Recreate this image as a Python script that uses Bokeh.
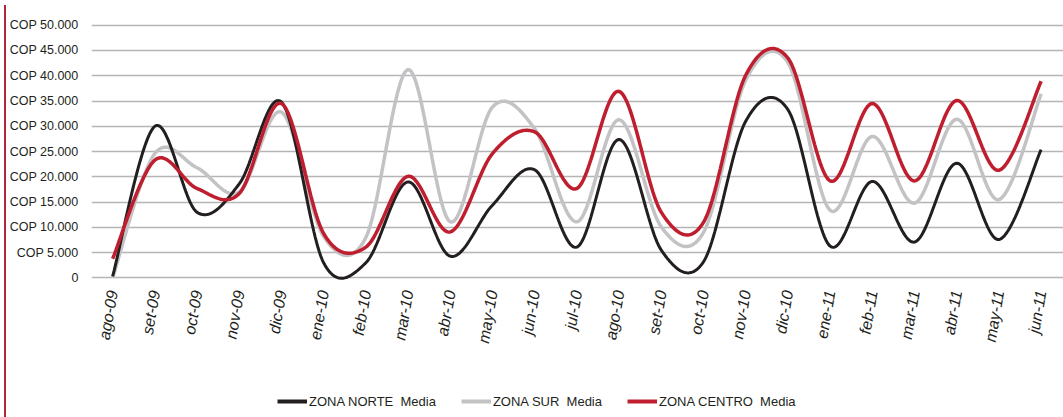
import numpy as np
from bokeh.plotting import figure
from bokeh.models import (FixedTicker, Legend, LegendItem, Range1d, Div)
from bokeh.layouts import row, column
from bokeh.embed import file_html
from bokeh.resources import INLINE

months = ["ago-09", "set-09", "oct-09", "nov-09", "dic-09", "ene-10", "feb-10",
          "mar-10", "abr-10", "may-10", "jun-10", "jul-10", "ago-10", "set-10",
          "oct-10", "nov-10", "dic-10", "ene-11", "feb-11", "mar-11", "abr-11",
          "may-11", "jun-11"]

norte = [300, 30000, 13000, 18600, 34800, 3000, 3000, 19000, 4300, 14400, 21400,
         6100, 27400, 5500, 3200, 31000, 33300, 6300, 19100, 7100, 22700, 7600, 25400]
sur = [0, 24600, 21800, 17000, 32800, 8200, 8000, 41200, 11100, 33800, 29500,
       11100, 31300, 10100, 9000, 39100, 42600, 13400, 28000, 14800, 31400, 15500, 36400]
centro = [3800, 23300, 17700, 16700, 34500, 8800, 6100, 20100, 9100, 24600, 28900,
          17700, 36900, 13000, 11000, 40100, 43500, 19200, 34500, 19200, 35100, 21300, 38900]

series_names = ["ZONA NORTE  Media", "ZONA SUR  Media", "ZONA CENTRO  Media"]

y_ticks = list(range(0, 50001, 5000))
y_labels = ["0"] + ["COP {:,}".format(v).replace(",", ".") for v in y_ticks[1:]]


def smooth(ys, n=30):
    """Excel-like smoothed line (cubic Bezier through every point)."""
    pts = np.array([[i, v] for i, v in enumerate(ys)], dtype=float)
    m = len(pts)
    xs_out, ys_out = [], []
    for i in range(m - 1):
        p0 = pts[i - 1] if i > 0 else pts[i]
        p1 = pts[i]
        p2 = pts[i + 1]
        p3 = pts[i + 2] if i + 2 < m else pts[i + 1]
        c1 = p1 + (p2 - p0) / 6.0
        c2 = p2 - (p3 - p1) / 6.0
        t = np.linspace(0, 1, n, endpoint=(i == m - 2))
        b = ((1 - t) ** 3)[:, None] * p1 + (3 * (1 - t) ** 2 * t)[:, None] * c1 \
            + (3 * (1 - t) * t ** 2)[:, None] * c2 + (t ** 3)[:, None] * p2
        xs_out.extend(b[:, 0])
        ys_out.extend(b[:, 1])
    return list(xs_out), list(ys_out)


FONT = "Liberation Sans"
TEXT = "#231f20"
C_NORTE, C_SUR, C_CENTRO = "#231f20", "#c3c3c5", "#be1e2d"

p = figure(width=1057, height=370, output_backend="svg", toolbar_location=None,
           x_range=Range1d(-0.5, 22.53), y_range=Range1d(-700, 52115),
           min_border_left=83, min_border_right=0, min_border_top=14,
           min_border_bottom=89)
p.outline_line_color = None
p.background_fill_color = "white"
p.border_fill_color = "white"

p.line(*smooth(sur), line_color=C_SUR, line_width=3.5)
p.line(*smooth(norte), line_color=C_NORTE, line_width=3)
p.line(*smooth(centro), line_color=C_CENTRO, line_width=3.5)

p.xgrid.grid_line_color = None
p.ygrid.grid_line_color = "#b5b5b8"
p.ygrid.grid_line_width = 1.6
p.yaxis.ticker = FixedTicker(ticks=y_ticks)
p.yaxis.major_label_overrides = {v: s for v, s in zip(y_ticks, y_labels)}
p.xaxis.ticker = FixedTicker(ticks=list(range(len(months))))
p.xaxis.major_label_overrides = {i: m for i, m in enumerate(months)}
p.xaxis.major_label_orientation = 1.40

for ax in (p.xaxis[0], p.yaxis[0]):
    ax.axis_line_color = None
    ax.major_tick_line_color = None
    ax.minor_tick_line_color = None
    ax.major_tick_out = 0
    ax.major_tick_in = 0
    ax.major_label_text_color = TEXT
    ax.major_label_text_font = FONT
p.yaxis.major_label_text_font_size = "12.5px"
p.yaxis.major_label_standoff = 13
p.xaxis.major_label_text_font_size = "16px"
p.xaxis.major_label_standoff = 9
p.xaxis.major_label_text_font_style = "italic"

# legend strip below the chart
lf = figure(width=1057, height=47, output_backend="svg", toolbar_location=None,
            x_range=Range1d(0, 1), y_range=Range1d(0, 1),
            x_axis_location=None, y_axis_location=None,
            min_border_left=0, min_border_right=0, min_border_top=0,
            min_border_bottom=0)
lf.outline_line_color = None
lf.grid.grid_line_color = None
lr = [lf.line(x=[5, 6], y=[5, 5], line_color=c, line_width=4)
      for c in (C_NORTE, C_SUR, C_CENTRO)]
legend = Legend(items=[LegendItem(label=n, renderers=[r]) for n, r in zip(series_names, lr)],
                orientation="horizontal", location=(186, 6))
legend.label_text_font = FONT
legend.label_text_font_size = "13px"
legend.label_text_color = TEXT
legend.glyph_width = 30
legend.glyph_height = 20
legend.label_height = 20
legend.label_standoff = 2
legend.spacing = 25
legend.padding = 2
legend.margin = 0
legend.border_line_color = None
legend.background_fill_alpha = 0
lf.add_layout(legend, "center")

bar = Div(width=2, height=412, margin=(5, 0, 0, 4),
          styles={"background-color": "#b3253a"})
layout = row(bar, column(p, lf, spacing=0), spacing=0)

open("out.html", "w").write(file_html(layout, INLINE))
